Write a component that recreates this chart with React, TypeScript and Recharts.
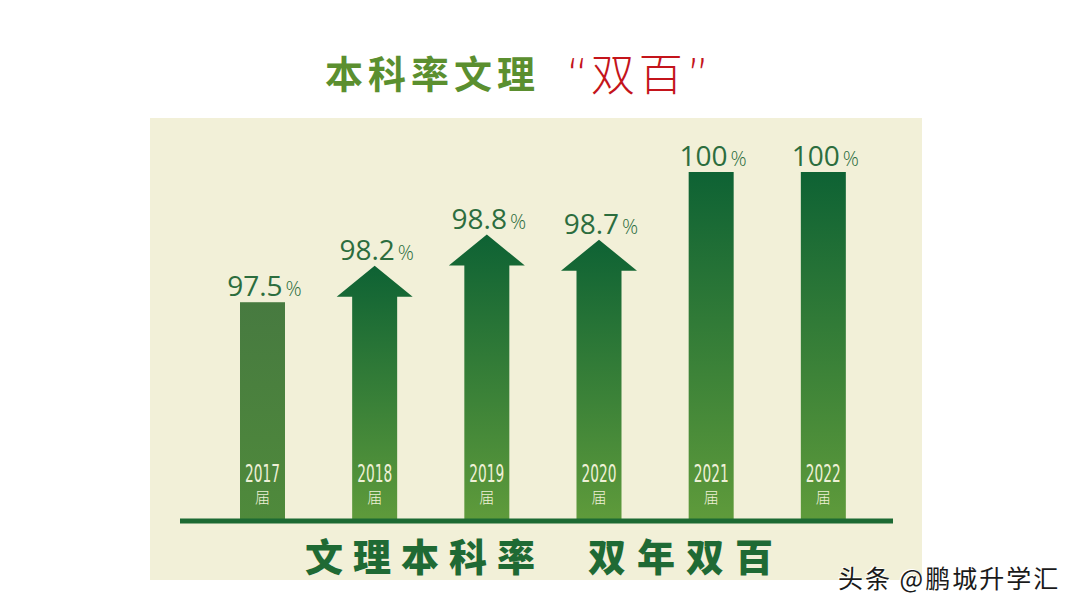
import React from "react";
import { Bar, BarChart, XAxis, YAxis } from "recharts";

const YEARS = ["2017", "2018", "2019", "2020", "2021", "2022"];
const RATES = [97.5, 98.2, 98.8, 98.7, 100, 100];
const UNIT = "届";

const data = YEARS.map((year, i) => ({ year, rate: RATES[i] }));

const ARROW_YEARS = new Set(["2018", "2019", "2020"]);
const FLAT_YEARS = new Set(["2017"]);

const CJK = "'Noto Sans CJK SC', 'Noto Sans', sans-serif";

function GrowthBar(props: any) {
  const { x, y, width, height, index, payload } = props;
  if (height == null || height <= 0) return null;
  const id = `bar-grad-${index}`;
  const cx = x + width / 2;
  const bottom = y + height;
  const flat = FLAT_YEARS.has(payload.year);
  const top = flat ? "#477a40" : "#0e6234";
  const low = flat ? "#4f8a3b" : "#5f9b3b";
  const headH = 31;
  const headW = 76;
  let mark;
  if (ARROW_YEARS.has(payload.year)) {
    const d = [
      `M${cx},${y}`,
      `L${cx + headW / 2},${y + headH}`,
      `L${x + width},${y + headH}`,
      `L${x + width},${bottom}`,
      `L${x},${bottom}`,
      `L${x},${y + headH}`,
      `L${cx - headW / 2},${y + headH}`,
      "Z",
    ].join(" ");
    mark = <path d={d} fill={`url(#${id})`} />;
  } else {
    mark = <rect x={x} y={y} width={width} height={height} fill={`url(#${id})`} />;
  }
  return (
    <g>
      <defs>
        <linearGradient id={id} x1="0" y1="0" x2="0" y2="1">
          <stop offset="0%" stopColor={top} />
          <stop offset="100%" stopColor={low} />
        </linearGradient>
      </defs>
      {mark}
      <text
        x={cx + 2}
        y={y - 6}
        textAnchor="middle"
        fill="#2c6d3e"
        fontFamily="'Open Sans', sans-serif"
        fontSize={28}
      >
        {payload.rate}
        <tspan fontSize={20} dx={3} fontWeight={300}>%</tspan>
      </text>
      <text
        x={cx}
        y={bottom - 39}
        textAnchor="middle"
        fill="#eef0d6"
        fontFamily="'DejaVu Sans Condensed', 'DejaVu Sans', sans-serif"
        fontSize={25}
        textLength={35}
        lengthAdjust="spacingAndGlyphs"
      >
        {payload.year}
      </text>
      <text
        x={cx}
        y={bottom - 18}
        textAnchor="middle"
        fill="#eef0d6"
        fontFamily={CJK}
        fontWeight={300}
        fontSize={15}
      >
        {UNIT}
      </text>
    </g>
  );
}

export default function App() {
  return (
    <div
      style={{
        position: "absolute",
        left: 0,
        top: 0,
        width: 1080,
        height: 608,
        background: "#ffffff",
        overflow: "hidden",
      }}
    >
      <div
        style={{
          position: "absolute",
          left: 150,
          top: 118,
          width: 772,
          height: 462,
          background: "#f2f0d8",
        }}
      />
      <div
        style={{
          position: "absolute",
          left: 325,
          top: 52,
          fontFamily: CJK,
          fontSize: 38,
          fontWeight: 700,
          lineHeight: "40px",
          letterSpacing: 5,
          color: "#5b8f2f",
          whiteSpace: "nowrap",
        }}
      >
        本科率文理
      </div>
      <div
        style={{
          position: "absolute",
          left: 566,
          top: 48,
          fontFamily: CJK,
          fontSize: 44,
          fontWeight: 300,
          lineHeight: "48px",
          color: "#c4141b",
          whiteSpace: "nowrap",
        }}
      >
        <span style={{ fontFamily: "'DejaVu Sans', sans-serif", fontWeight: 200 }}>“</span>
        <span style={{ marginLeft: 2, letterSpacing: 4 }}>双百</span>
        <span style={{ fontFamily: "'DejaVu Sans', sans-serif", fontWeight: 200 }}>”</span>
      </div>
      <BarChart
        width={1080}
        height={608}
        data={data}
        margin={{ top: 172, right: 187, bottom: 57, left: 180 }}
        style={{ position: "absolute", left: 0, top: 0 }}
      >
        <XAxis
          dataKey="year"
          height={30}
          tick={false}
          tickLine={false}
          padding={{ left: 26, right: 14 }}
          axisLine={{ stroke: "#1d6a33", strokeWidth: 5 }}
        />
        <YAxis hide domain={[93.3, 100]} />
        <Bar dataKey="rate" barSize={45} shape={GrowthBar} isAnimationActive={false} />
      </BarChart>
      <div
        style={{
          position: "absolute",
          left: 305,
          top: 535,
          fontFamily: CJK,
          fontSize: 38,
          fontWeight: 900,
          lineHeight: "40px",
          letterSpacing: 10,
          color: "#1f6a34",
          whiteSpace: "nowrap",
        }}
      >
        文理本科率
      </div>
      <div
        style={{
          position: "absolute",
          left: 588,
          top: 535,
          fontFamily: CJK,
          fontSize: 38,
          fontWeight: 900,
          lineHeight: "40px",
          letterSpacing: 11,
          color: "#1f6a34",
          whiteSpace: "nowrap",
        }}
      >
        双年双百
      </div>
      <div
        style={{
          position: "absolute",
          left: 838,
          top: 562,
          fontFamily: CJK,
          fontSize: 25,
          lineHeight: "30px",
          letterSpacing: 2,
          color: "#1a1a1a",
          textShadow: "1px 1px 0 #ffffff, -1px -1px 0 #ffffff",
          whiteSpace: "nowrap",
        }}
      >
        头条 @鹏城升学汇
      </div>
    </div>
  );
}
